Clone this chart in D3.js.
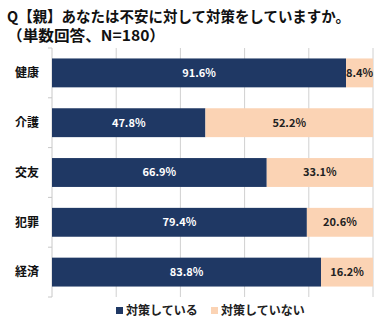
<!DOCTYPE html>
<html><head><meta charset="utf-8">
<script src="https://cdn.jsdelivr.net/npm/d3@7"></script>
<style>
body{margin:0;background:#fff;}
text{font-family:"Noto Sans CJK JP","Noto Sans",sans-serif;}
</style></head>
<body><svg id="c" width="384" height="336"></svg>
<script>
const categories = ["健康","介護","交友","犯罪","経済"];
const doing = [91.6,47.8,66.9,79.4,83.8];
const notDoing = [8.4,52.2,33.1,20.6,16.2];
const seriesNames = ["対策している","対策していない"];
const colors = ["#1F3864","#FBD3B4"];
const xTicks = [0,20,40,60,80,100];

const svg = d3.select("#c");
const m = {l:52, r:373, t:48, b:297};
const x = d3.scaleLinear().domain([0,100]).range([m.l, m.r]);
const y = d3.scaleBand().domain(categories).range([m.t, m.b]).paddingInner(0.42).paddingOuter(0.21);

svg.append("text").attr("x",7).attr("y",22).attr("font-size",15).attr("font-weight","bold").attr("fill","#111")
  .attr("textLength",343).attr("lengthAdjust","spacingAndGlyphs")
  .text("Q【親】あなたは不安に対して対策をしていますか。");
svg.append("text").attr("x",7).attr("y",41).attr("font-size",15).attr("font-weight","bold").attr("fill","#111")
  .attr("textLength",158).attr("lengthAdjust","spacingAndGlyphs")
  .text("（単数回答、N=180）");

// gridlines
svg.append("g").selectAll("line").data(xTicks.slice(1)).join("line")
  .attr("x1",d=>x(d)).attr("x2",d=>x(d)).attr("y1",m.t).attr("y2",m.b)
  .attr("stroke","#d0d0d0").attr("stroke-width",1);
// left axis
svg.append("line").attr("x1",m.l).attr("x2",m.l).attr("y1",m.t).attr("y2",m.b).attr("stroke","#c8c8c8");
const bounds = d3.range(categories.length+1).map(i=>m.t + i*(m.b-m.t)/categories.length);
svg.append("g").selectAll("line").data(bounds).join("line")
  .attr("x1",m.l-4).attr("x2",m.l).attr("y1",d=>d).attr("y2",d=>d).attr("stroke","#c8c8c8");

const rows = categories.map((c,i)=>({c, a:doing[i], b:notDoing[i]}));
const g = svg.append("g");
g.selectAll("rect.a").data(rows).join("rect").attr("class","a")
  .attr("x",x(0)).attr("y",d=>y(d.c)).attr("width",d=>x(d.a)-x(0)).attr("height",y.bandwidth()).attr("fill",colors[0]);
g.selectAll("rect.b").data(rows).join("rect").attr("class","b")
  .attr("x",d=>x(d.a)).attr("y",d=>y(d.c)).attr("width",d=>x(d.a+d.b)-x(d.a)).attr("height",y.bandwidth()).attr("fill",colors[1]);

g.selectAll("text.la").data(rows).join("text").attr("class","la")
  .attr("x",d=>(x(0)+x(d.a))/2).attr("y",d=>y(d.c)+y.bandwidth()/2).attr("dy","0.35em")
  .attr("text-anchor","middle").attr("font-size",11).attr("font-weight","bold").attr("fill","#fff")
  .text(d=>d.a.toFixed(1)+"%");
g.selectAll("text.lb").data(rows).join("text").attr("class","lb")
  .attr("x",d=>(x(d.a)+x(d.a+d.b))/2).attr("y",d=>y(d.c)+y.bandwidth()/2).attr("dy","0.35em")
  .attr("text-anchor","middle").attr("font-size",11).attr("font-weight","bold").attr("fill","#222")
  .text(d=>d.b.toFixed(1)+"%");

g.selectAll("text.cat").data(categories).join("text").attr("class","cat")
  .attr("x",27).attr("y",d=>y(d)+y.bandwidth()/2).attr("dy","0.35em")
  .attr("text-anchor","middle").attr("font-size",12).attr("font-weight","bold").attr("fill","#111")
  .text(d=>d);

// legend
const leg = svg.append("g");
const lx = [116, 211];
seriesNames.forEach((s,i)=>{
  leg.append("rect").attr("x",lx[i]).attr("y",307).attr("width",7).attr("height",7).attr("fill",colors[i]);
  leg.append("text").attr("x",lx[i]+10).attr("y",311).attr("dy","0.35em").attr("font-size",12).attr("font-weight","bold").attr("fill","#222").text(s);
});
</script></body></html>
